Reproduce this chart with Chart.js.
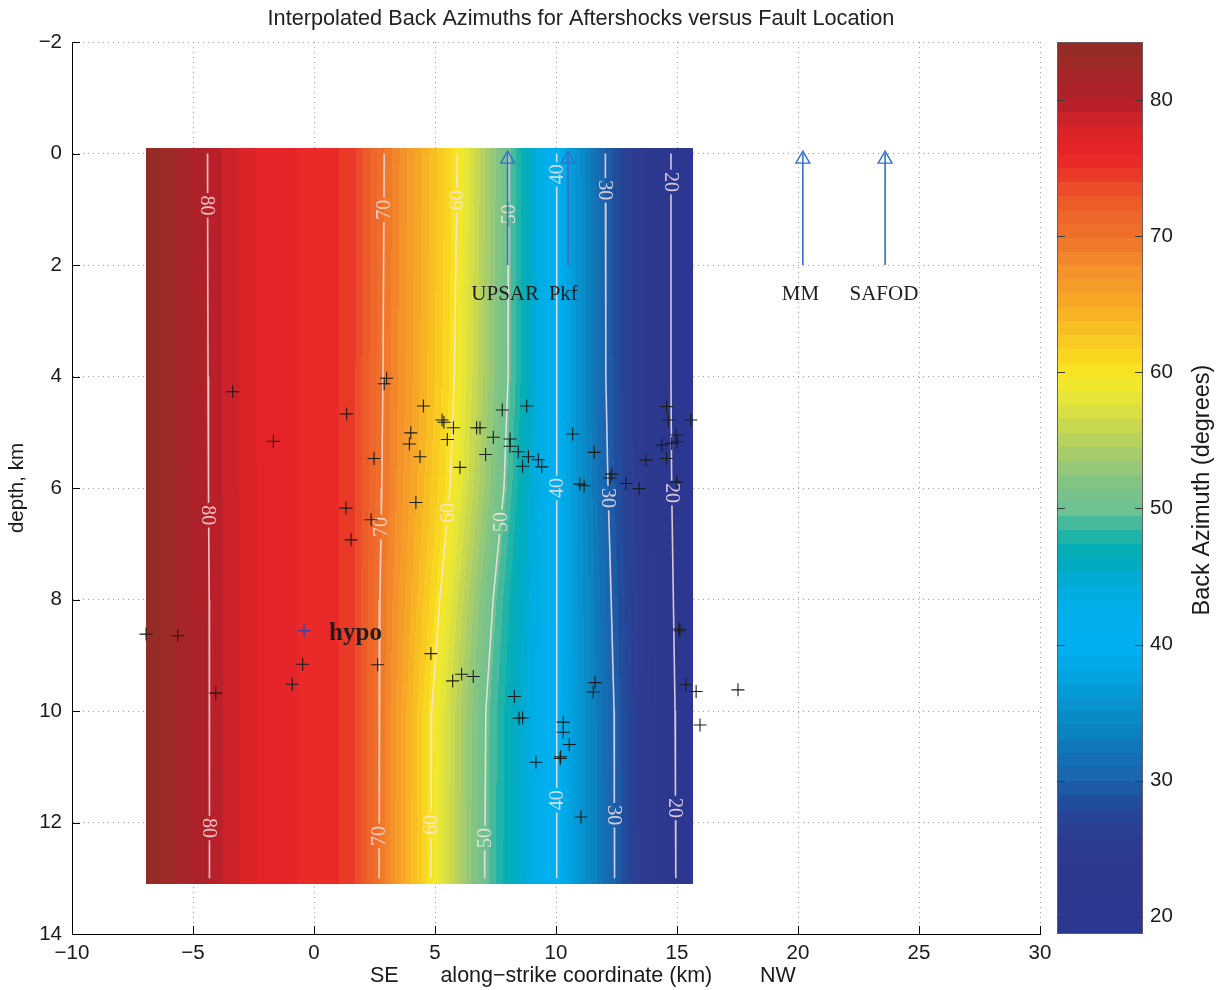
<!DOCTYPE html>
<html>
<head>
<meta charset="utf-8">
<title>Interpolated Back Azimuths</title>
<script src="https://cdn.jsdelivr.net/npm/chart.js@4.4.1/dist/chart.umd.min.js"></script>
<style>
  html, body { margin: 0; padding: 0; background: #fff; }
  #wrap { position: relative; width: 1216px; height: 990px; }
  #main { position: absolute; left: 0; top: 0; }
  #cbar { position: absolute; left: 1040px; top: 0; }
</style>
</head>
<body>
<div id="wrap">
  <canvas id="main" width="1162" height="990"></canvas>
  <canvas id="cbar" width="176" height="990"></canvas>
</div>
<script>
// aftershocks: along-strike position (km) and depth (km)
const shockX = [
  -3.36, 3.00, 2.90, 1.35, 4.52, 5.29, 5.37, 5.76, 6.72, 6.86,
  7.78, 8.79, 4.00, 3.94, 5.51, 7.41, 8.10, 8.10, 8.44, 8.86,
  8.62, 9.27, 9.41, 7.09, 2.48, 4.38, 6.03, -1.68, 10.69, 11.58,
  10.99, 11.16, 12.23, 12.31, 12.89, 13.44, 13.72, 14.57, 14.64, 15.57,
  14.96, 15.01, 14.78, 14.37, 14.57, 14.99, 1.32, 4.21, 2.36, 1.53,
  -6.94, -5.63, -0.47, -0.90, -4.06, 2.63, 4.83, 5.73, 6.10, 6.58,
  8.28, 8.47, 8.62, 15.08, 15.12, 11.61, 11.54, 15.37, 15.79, 10.30,
  15.95, 17.52, 10.30, 10.55, 10.19, 10.17, 9.17, 11.03
];
const shockDepth = [
  4.27, 4.03, 4.13, 4.67, 4.53, 4.78, 4.82, 4.92, 4.92, 4.92,
  4.60, 4.53, 5.01, 5.21, 5.13, 5.09, 5.12, 5.25, 5.35, 5.44,
  5.61, 5.49, 5.62, 5.40, 5.47, 5.44, 5.63, 5.16, 5.03, 5.36,
  5.93, 5.96, 5.82, 5.75, 5.92, 6.01, 5.50, 4.54, 4.78, 4.78,
  5.05, 5.17, 5.20, 5.23, 5.47, 5.89, 6.36, 6.26, 6.57, 6.93,
  8.62, 8.65, 9.16, 9.52, 9.68, 9.17, 8.97, 9.46, 9.34, 9.38,
  9.74, 10.13, 10.12, 8.53, 8.56, 9.49, 9.66, 9.53, 9.65, 10.20,
  10.25, 9.62, 10.38, 10.60, 10.82, 10.85, 10.92, 11.90
];
const hypoX = -0.41;
const hypoDepth = 8.56;
const hypoLabel = 'hypo';

// recording stations at the surface
const stationNames = ['UPSAR', 'Pkf', 'MM', 'SAFOD'];
const stationX = [8.0, 10.5, 20.2, 23.6];
const stationLabelX = [7.9, 10.3, 20.1, 23.55];
const stationDepth = 0.1;
const stationRod = [0, 2];
const stationLabelDepth = 2.63;

// interpolated back-azimuth field: extent, edge values and contour traces
const fieldX = [-6.94, 15.67];
const fieldDepth = [-0.1, 13.1];
const edgeAz = [84.2, 19.0];
const rowDepth = [0, 4, 6, 8, 10, 13];
const contourLevels = [80, 70, 60, 50, 40, 30, 20];
const contour80 = [-4.40, -4.38, -4.36, -4.33, -4.32, -4.32];
const contour70 = [2.90, 2.85, 2.80, 2.72, 2.70, 2.69];
const contour60 = [5.92, 5.80, 5.62, 5.20, 4.86, 4.83];
const contour50 = [8.05, 8.02, 7.85, 7.40, 7.10, 7.05];
const contour40 = [10.03, 10.03, 10.03, 10.03, 10.03, 10.03];
const contour30 = [12.04, 12.06, 12.15, 12.28, 12.40, 12.42];
const contour20 = [14.75, 14.75, 14.78, 14.85, 14.92, 14.95];
const contourLines = [contour80, contour70, contour60, contour50, contour40, contour30, contour20];
// the wide red band between the 80 and 70 contours is not linear
const shoulderX = [-2.3, 1.5];
const shoulderAz = [77.0, 74.8];
// depth of each inline label on the contours
const labelDepths = [
  [0.93, 6.49, 12.10],
  [1.01, 6.70, 12.24],
  [0.84, 6.45, 12.04],
  [1.09, 6.61, 12.28],
  [0.37, 6.00, 11.60],
  [0.66, 6.18, 11.87],
  [0.51, 6.09, 11.74]
];
// +1 reads downwards, -1 reads upwards (follows the slant of each contour)
const labelTurn = [
  [1, 1, 1],
  [-1, -1, -1],
  [-1, -1, -1],
  [-1, -1, -1],
  [-1, -1, -1],
  [1, 1, 1],
  [1, 1, 1]
];
const labelGap = 0.22;

// colour scale
const cbarMin = 18.73;
const cbarMax = 84.28;
const cbarTicks = [20, 30, 40, 50, 60, 70, 80];
const nBands = 64;
const cmapAz = [18.7, 25.0, 27.2, 28.6, 30.1, 31.9, 33.8, 36.0, 38.2, 40.0, 42.6, 44.0, 45.5, 47.0,
  48.0, 49.1, 50.0, 51.4, 52.9, 54.3, 55.8, 57.3, 58.7, 60.0, 61.0, 62.4, 63.9, 65.3, 67.2, 68.6,
  70.0, 71.6, 73.0, 74.5, 75.6, 76.3, 77.8, 78.9, 80.0, 81.5, 82.8, 84.3];
const cmapHex = ['#2b3790', '#2e3a8f', '#2a4296', '#1f4f9d', '#1d64ae', '#1370b4', '#0a85c2', '#0796d3',
  '#00a7e6', '#00b0f0', '#00afea', '#00adde', '#00abc8', '#06aeb4', '#22b3a6', '#4dba9a', '#6dc290',
  '#7cc38a', '#93c77a', '#aacd68', '#c3d654', '#dae141', '#eee934', '#f7e622', '#f9da21', '#f9c922',
  '#f8b823', '#f6a726', '#f4952a', '#f3842a', '#f0712a', '#ee6529', '#ed5529', '#eb3a28', '#ea2a28',
  '#e82429', '#da2428', '#c8222a', '#b21f2a', '#a82428', '#9e2a26', '#8e2b24'];

const contourColor = 'rgba(255, 228, 232, 0.82)';
const sans = 'Liberation Sans, Arial, Helvetica, sans-serif';
const serif = 'Liberation Serif, Times New Roman, serif';

function hexRGB(h) {
  return [parseInt(h.slice(1, 3), 16), parseInt(h.slice(3, 5), 16), parseInt(h.slice(5, 7), 16)];
}
const cmapRGB = cmapHex.map(hexRGB);

function cmapAt(v) {
  if (v <= cmapAz[0]) return cmapRGB[0];
  for (let i = 1; i < cmapAz.length; i++) {
    if (v <= cmapAz[i]) {
      const t = (v - cmapAz[i - 1]) / (cmapAz[i] - cmapAz[i - 1]);
      const a = cmapRGB[i - 1], b = cmapRGB[i];
      return [0, 1, 2].map(k => Math.round(a[k] + t * (b[k] - a[k])));
    }
  }
  return cmapRGB[cmapRGB.length - 1];
}

// the colormap is stepped, like the 64-entry table it came from
const bandRGB = [];
for (let i = 0; i < nBands; i++) {
  bandRGB.push(cmapAt(cbarMin + (i + 0.5) * (cbarMax - cbarMin) / nBands));
}
function bandOf(v) {
  const i = Math.floor((v - cbarMin) / (cbarMax - cbarMin) * nBands);
  return bandRGB[Math.max(0, Math.min(nBands - 1, i))];
}

function contourXAt(line, d) {
  if (d <= rowDepth[0]) return line[0];
  for (let i = 1; i < rowDepth.length; i++) {
    if (d <= rowDepth[i]) {
      const t = (d - rowDepth[i - 1]) / (rowDepth[i] - rowDepth[i - 1]);
      return line[i - 1] + t * (line[i] - line[i - 1]);
    }
  }
  return line[line.length - 1];
}

function knotsAt(d) {
  const pts = [[fieldX[0], edgeAz[0]], [fieldX[1], edgeAz[1]]];
  contourLines.forEach((line, i) => pts.push([contourXAt(line, d), contourLevels[i]]));
  shoulderX.forEach((x, i) => pts.push([x, shoulderAz[i]]));
  pts.sort((a, b) => a[0] - b[0]);
  return { xs: pts.map(p => p[0]), vs: pts.map(p => p[1]) };
}

function azimuthAt(k, x) {
  const { xs, vs } = k;
  if (x <= xs[0]) return vs[0];
  for (let i = 1; i < xs.length; i++) {
    if (x <= xs[i]) {
      const t = (x - xs[i - 1]) / (xs[i] - xs[i - 1]);
      return vs[i - 1] + t * (vs[i] - vs[i - 1]);
    }
  }
  return vs[vs.length - 1];
}

// contour polyline with breaks where the inline labels sit
function contourData(line, labels) {
  const marks = rowDepth.map(d => ({ d, start: false }));
  labels.forEach(d => {
    marks.push({ d: d - labelGap, start: true });
    marks.push({ d: d + labelGap, start: false });
  });
  marks.sort((a, b) => a.d - b.d);
  const data = [];
  marks.forEach(m => {
    if (labels.some(ld => Math.abs(m.d - ld) < labelGap - 1e-6)) return;
    data.push({ x: contourXAt(line, m.d), y: m.d });
    if (m.start) data.push({ x: null, y: null });
  });
  return data;
}

const fieldPlugin = {
  id: 'field',
  beforeDatasetsDraw(chart) {
    const { ctx, scales: { x, y } } = chart;
    const left = Math.round(x.getPixelForValue(fieldX[0]));
    const right = Math.round(x.getPixelForValue(fieldX[1]));
    const top = Math.round(y.getPixelForValue(fieldDepth[0]));
    const bottom = Math.round(y.getPixelForValue(fieldDepth[1]));
    const w = right - left, h = bottom - top;
    const img = ctx.createImageData(w, h);
    for (let r = 0; r < h; r++) {
      const knots = knotsAt(y.getValueForPixel(top + r + 0.5));
      for (let c = 0; c < w; c++) {
        const rgb = bandOf(azimuthAt(knots, x.getValueForPixel(left + c + 0.5)));
        const k = (r * w + c) * 4;
        img.data[k] = rgb[0];
        img.data[k + 1] = rgb[1];
        img.data[k + 2] = rgb[2];
        img.data[k + 3] = 255;
      }
    }
    const off = document.createElement('canvas');
    off.width = w;
    off.height = h;
    off.getContext('2d').putImageData(img, 0, 0);
    ctx.drawImage(off, left, top);

    // inline contour labels
    ctx.save();
    ctx.fillStyle = contourColor;
    ctx.font = '20px ' + serif;
    ctx.textAlign = 'center';
    ctx.textBaseline = 'middle';
    contourLines.forEach((line, i) => {
      labelDepths[i].forEach((d, j) => {
        const px = x.getPixelForValue(contourXAt(line, d));
        const py = y.getPixelForValue(d);
        ctx.save();
        ctx.translate(px, py);
        ctx.rotate(labelTurn[i][j] * Math.PI / 2);
        ctx.fillText(String(contourLevels[i]), 0, 1);
        ctx.restore();
      });
    });
    ctx.restore();
  }
};

const notesPlugin = {
  id: 'notes',
  afterDatasetsDraw(chart) {
    const { ctx, scales: { x, y } } = chart;
    ctx.save();
    ctx.fillStyle = '#1e1e1e';
    ctx.font = '21px ' + serif;
    ctx.textAlign = 'center';
    ctx.textBaseline = 'alphabetic';
    stationNames.forEach((name, i) => {
      ctx.fillText(name, x.getPixelForValue(stationLabelX[i]), y.getPixelForValue(stationLabelDepth));
    });
    ctx.font = 'bold 25px ' + serif;
    ctx.textAlign = 'left';
    ctx.fillText(hypoLabel, x.getPixelForValue(hypoX) + 25, y.getPixelForValue(hypoDepth) + 9);
    ctx.restore();
  }
};

// matlab-style tick marks pointing into the axes
const innerTicks = {
  id: 'innerTicks',
  afterDraw(chart) {
    const { ctx, chartArea: a, scales: { x, y } } = chart;
    ctx.save();
    ctx.strokeStyle = '#000';
    ctx.lineWidth = 1;
    ctx.beginPath();
    x.ticks.forEach(t => {
      const px = Math.round(x.getPixelForValue(t.value)) + 0.5;
      ctx.moveTo(px, a.bottom);
      ctx.lineTo(px, a.bottom - 8);
    });
    y.ticks.forEach(t => {
      const py = Math.round(y.getPixelForValue(t.value)) + 0.5;
      ctx.moveTo(a.left, py);
      ctx.lineTo(a.left + 8, py);
    });
    ctx.stroke();
    ctx.restore();
  }
};

const minus = v => String(v).replace('-', '\u2212');

const datasets = [
  {
    data: shockX.map((v, i) => ({ x: v, y: shockDepth[i] })),
    pointStyle: 'cross', pointRadius: 6.5, borderColor: '#1c1c1c', borderWidth: 1.1, order: 0
  },
  {
    data: [{ x: hypoX, y: hypoDepth }],
    pointStyle: 'cross', pointRadius: 6.5, borderColor: '#3a3fa8', borderWidth: 1.3, order: 0
  },
  {
    data: stationX.map(v => ({ x: v, y: stationDepth })),
    pointStyle: 'triangle', pointRadius: 8, borderColor: '#3470c8',
    backgroundColor: 'rgba(0,0,0,0)', borderWidth: 1.4, order: 1
  },
  {
    data: stationX.flatMap(v => [{ x: v, y: stationRod[0] }, { x: v, y: stationRod[1] }, { x: null, y: null }]),
    showLine: true, spanGaps: false, pointRadius: 0, borderColor: '#3470c8', borderWidth: 1.6, order: 1
  },
  ...contourLines.map((line, i) => ({
    data: contourData(line, labelDepths[i]),
    showLine: true, spanGaps: false, pointRadius: 0,
    borderColor: contourColor, borderWidth: 1.6, order: 2
  }))
];

new Chart(document.getElementById('main'), {
  type: 'scatter',
  data: { datasets },
  options: {
    responsive: false,
    animation: false,
    devicePixelRatio: 1,
    layout: { padding: 0 },
    plugins: {
      legend: { display: false },
      tooltip: { enabled: false },
      title: {
        display: true,
        text: 'Interpolated Back Azimuths for Aftershocks versus Fault Location',
        color: '#222',
        font: { family: sans, size: 21.7, weight: 'normal' },
        padding: { top: 6, bottom: 10 }
      }
    },
    scales: {
      x: {
        type: 'linear', min: -10, max: 30,
        ticks: { stepSize: 5, padding: 7, color: '#1a1a1a', font: { family: sans, size: 20.5 }, callback: minus },
        grid: { color: '#9a9a9a', lineWidth: 1, drawTicks: false },
        border: { display: true, color: '#000', width: 1, dash: [1, 4] },
        title: {
          display: true,
          text: '\u00a0\u00a0\u00a0\u00a0\u00a0\u00a0\u00a0\u00a0\u00a0SE       along\u2212strike coordinate (km)        NW',
          color: '#1a1a1a',
          font: { family: sans, size: 21.5 },
          padding: { top: 0, bottom: 1 }
        },
        afterFit: s => { s.height = 56; }
      },
      y: {
        type: 'linear', min: -2, max: 14, reverse: true,
        ticks: { stepSize: 2, padding: 10, color: '#1a1a1a', font: { family: sans, size: 20.5 }, callback: minus },
        grid: { color: '#9a9a9a', lineWidth: 1, drawTicks: false },
        border: { display: true, color: '#000', width: 1, dash: [1, 4] },
        title: {
          display: true,
          text: 'depth, km',
          color: '#1a1a1a',
          font: { family: sans, size: 20.5 },
          padding: { top: 5, bottom: 0 }
        },
        afterFit: s => { s.width = 72; }
      },
      // empty strip on the right, leaves room for the colour bar
      yRight: {
        type: 'linear', position: 'right', axis: 'y',
        ticks: { display: false },
        grid: { display: false, drawTicks: false },
        border: { display: false },
        afterFit: s => { s.width = 122; }
      }
    }
  },
  plugins: [fieldPlugin, notesPlugin, innerTicks]
});

// colour bar drawn on its own axis
const colorbarPlugin = {
  id: 'colorbar',
  beforeDatasetsDraw(chart) {
    const { ctx, chartArea: a, scales: { y } } = chart;
    const step = (cbarMax - cbarMin) / nBands;
    for (let i = 0; i < nBands; i++) {
      const y0 = y.getPixelForValue(cbarMin + i * step);
      const y1 = y.getPixelForValue(cbarMin + (i + 1) * step);
      const rgb = bandRGB[i];
      ctx.fillStyle = 'rgb(' + rgb.join(',') + ')';
      ctx.fillRect(a.left, Math.floor(y1), a.right - a.left, Math.ceil(y0) - Math.floor(y1));
    }
    ctx.save();
    ctx.strokeStyle = '#6b5a58';
    ctx.lineWidth = 1;
    ctx.strokeRect(a.left + 0.5, a.top + 0.5, a.right - a.left - 1, a.bottom - a.top - 1);
    ctx.strokeStyle = '#3a3a3a';
    ctx.beginPath();
    cbarTicks.forEach(v => {
      const py = Math.round(y.getPixelForValue(v)) + 0.5;
      ctx.moveTo(a.left, py);
      ctx.lineTo(a.left + 8, py);
      ctx.moveTo(a.right, py);
      ctx.lineTo(a.right - 8, py);
    });
    ctx.stroke();
    ctx.fillStyle = '#1a1a1a';
    ctx.font = '23.5px ' + sans;
    ctx.textAlign = 'center';
    ctx.textBaseline = 'middle';
    ctx.translate(a.right + 60, (a.top + a.bottom) / 2 + 2);
    ctx.rotate(-Math.PI / 2);
    ctx.fillText('Back Azimuth (degrees)', 0, 0);
    ctx.restore();
  }
};

new Chart(document.getElementById('cbar'), {
  type: 'scatter',
  data: { datasets: [] },
  options: {
    responsive: false,
    animation: false,
    devicePixelRatio: 1,
    layout: { padding: { left: 17, right: 0, top: 42, bottom: 56 } },
    plugins: { legend: { display: false }, tooltip: { enabled: false } },
    scales: {
      x: { display: false, min: 0, max: 1 },
      y: {
        position: 'right', min: cbarMin, max: cbarMax,
        afterBuildTicks: s => { s.ticks = cbarTicks.map(v => ({ value: v })); },
        ticks: { padding: 7, color: '#1a1a1a', font: { family: sans, size: 20.5 } },
        grid: { display: false, drawTicks: false },
        border: { display: false },
        afterFit: s => { s.width = 73; }
      }
    }
  },
  plugins: [colorbarPlugin]
});
</script>
</body>
</html>
